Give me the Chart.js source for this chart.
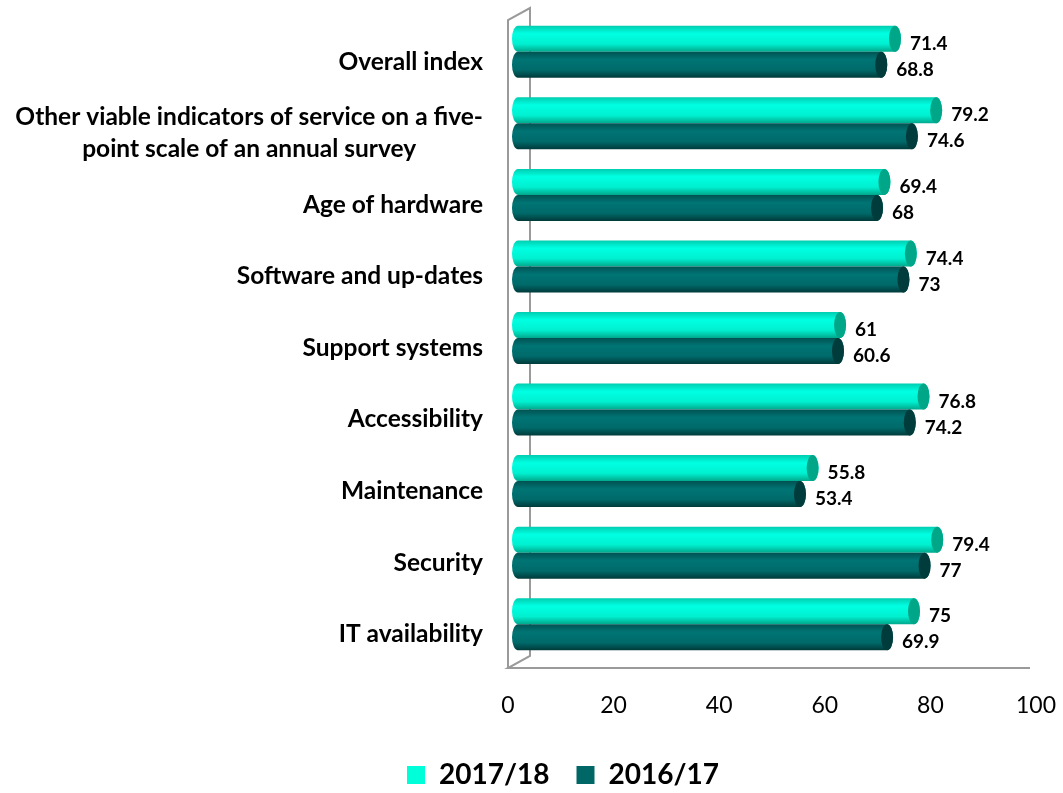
<!DOCTYPE html>
<html>
<head>
<meta charset="utf-8">
<script src="https://cdn.jsdelivr.net/npm/chart.js@4/dist/chart.umd.min.js"></script>
<style>
  html, body { margin: 0; padding: 0; background: #fff; }
  #wrap { width: 1063px; height: 793px; position: relative; }
</style>
</head>
<body>
<div id="wrap"><canvas id="myChart"></canvas></div>
<script>
// categories, top to bottom
var categories = [
  'Overall index',
  ['Other viable indicators of service on a five-', 'point scale of an annual survey'],
  'Age of hardware',
  'Software and up-dates',
  'Support systems',
  'Accessibility',
  'Maintenance',
  'Security',
  'IT availability'
];
var seriesNames = ['2017/18', '2016/17'];
var values1718 = [71.4, 79.2, 69.4, 74.4, 61, 76.8, 55.8, 79.4, 75];
var values1617 = [68.8, 74.6, 68, 73, 60.6, 74.2, 53.4, 77, 69.9];
var xTicks = [0, 20, 40, 60, 80, 100];

var FONT = 'Lato, "DejaVu Sans", sans-serif';
var DX = 10, DY = -10; // 3d depth shift of the bars

// colours per series: legend, gradient stops, end cap
var looks = [
  { legend: '#00ffd8', top: '#00cdb0', mid: '#00ffe2', low: '#00f0d0', bot: '#00a88c', cap: '#00a688' },
  { legend: '#006666', top: '#005252', mid: '#007474', low: '#006a6a', bot: '#003a3a', cap: '#003c3c' }
];

// draw the 3d frame, the category labels and the cylinders
var cylinderPlugin = {
  id: 'cylinders',
  beforeDatasetsDraw: function(chart) {
    var ctx = chart.ctx;
    var a = chart.chartArea;

    // frame
    ctx.save();
    ctx.strokeStyle = '#9a9a9a';
    ctx.lineWidth = 2;
    ctx.beginPath();
    ctx.moveTo(a.left, a.bottom - 2);
    ctx.lineTo(a.left, a.top - 6);
    ctx.lineTo(a.left + 22, a.top - 18);
    ctx.lineTo(a.left + 22, a.bottom - 14);
    ctx.lineTo(a.left, a.bottom - 2);
    ctx.lineTo(a.right - 6, a.bottom - 2);
    ctx.stroke();
    ctx.restore();

    // category labels, lines centred inside a right aligned block
    var yScale = chart.scales.y;
    ctx.save();
    ctx.font = 'bold 24.5px ' + FONT;
    ctx.fillStyle = '#000';
    ctx.textAlign = 'center';
    ctx.textBaseline = 'middle';
    for (var i = 0; i < categories.length; i++) {
      var lines = Array.isArray(categories[i]) ? categories[i] : [categories[i]];
      var w = 0;
      lines.forEach(function(l){ w = Math.max(w, ctx.measureText(l).width); });
      var cx = a.left - 25 - w / 2;
      var yc = yScale.getPixelForValue(i);
      var lh = 32;
      for (var j = 0; j < lines.length; j++)
        ctx.fillText(lines[j], cx, yc + (j - (lines.length - 1) / 2) * lh);
    }
    ctx.restore();

    // bars as cylinders
    chart.data.datasets.forEach(function(ds, di) {
      var meta = chart.getDatasetMeta(di);
      var lk = looks[di];
      meta.data.forEach(function(el, k) {
        var x0 = el.base + DX, x1 = el.x + DX;
        var yc = el.y + DY, h = el.height, r = h / 2, cw = 6;
        var g = ctx.createLinearGradient(0, yc - r, 0, yc + r);
        g.addColorStop(0, lk.top);
        g.addColorStop(0.3, lk.mid);
        g.addColorStop(0.7, lk.low);
        g.addColorStop(1, lk.bot);
        ctx.save();
        ctx.beginPath();
        ctx.moveTo(x0, yc - r);
        ctx.lineTo(x1, yc - r);
        ctx.ellipse(x1, yc, cw, r, 0, -Math.PI / 2, Math.PI / 2);
        ctx.lineTo(x0, yc + r);
        ctx.ellipse(x0, yc, cw, r, 0, Math.PI / 2, Math.PI * 1.5);
        ctx.closePath();
        ctx.fillStyle = g;
        ctx.fill();
        ctx.beginPath();
        ctx.ellipse(x1, yc, cw, r, 0, 0, Math.PI * 2);
        ctx.fillStyle = lk.cap;
        ctx.fill();
        // value label
        ctx.font = 'bold 19px ' + FONT;
        ctx.fillStyle = '#000';
        ctx.textAlign = 'left';
        ctx.textBaseline = 'middle';
        ctx.fillText(String(ds.data[k]), x1 + cw + 9, yc + 5);
        ctx.restore();
      });
    });
    return false;
  }
};

var data = {
  labels: categories.map(function(c, i){ return i; }),
  datasets: [
    { label: seriesNames[0], data: values1718, backgroundColor: looks[0].legend },
    { label: seriesNames[1], data: values1617, backgroundColor: looks[1].legend }
  ]
};

var ctx = document.getElementById('myChart').getContext('2d');
var myChart = new Chart(ctx, {
  type: 'bar',
  data: data,
  plugins: [cylinderPlugin],
  options: {
    indexAxis: 'y',
    responsive: true,
    maintainAspectRatio: false,
    animation: false,
    layout: { padding: { left: 90, right: 27, top: 26, bottom: -6 } },
    datasets: { bar: { categoryPercentage: 0.727, barPercentage: 1 } },
    scales: {
      x: {
        min: 0, max: 100,
        afterBuildTicks: function(axis){ axis.ticks = xTicks.map(function(v){ return { value: v }; }); },
        afterFit: function(axis){ axis.height = 64; axis.paddingLeft = 0; axis.paddingRight = 0; },
        grid: { display: false, drawTicks: false },
        border: { display: false },
        ticks: { color: '#000', padding: 22, font: { family: FONT, size: 23 } }
      },
      y: {
        afterFit: function(axis){ axis.width = 418; },
        grid: { display: false, drawTicks: false },
        border: { display: false },
        ticks: { display: false }
      }
    },
    plugins: {
      tooltip: { enabled: false },
      legend: {
        position: 'bottom',
        labels: {
          color: '#000',
          boxWidth: 18, boxHeight: 18,
          padding: 27,
          font: { family: FONT, size: 28, weight: 'bold' }
        }
      }
    }
  }
});
</script>
</body>
</html>
